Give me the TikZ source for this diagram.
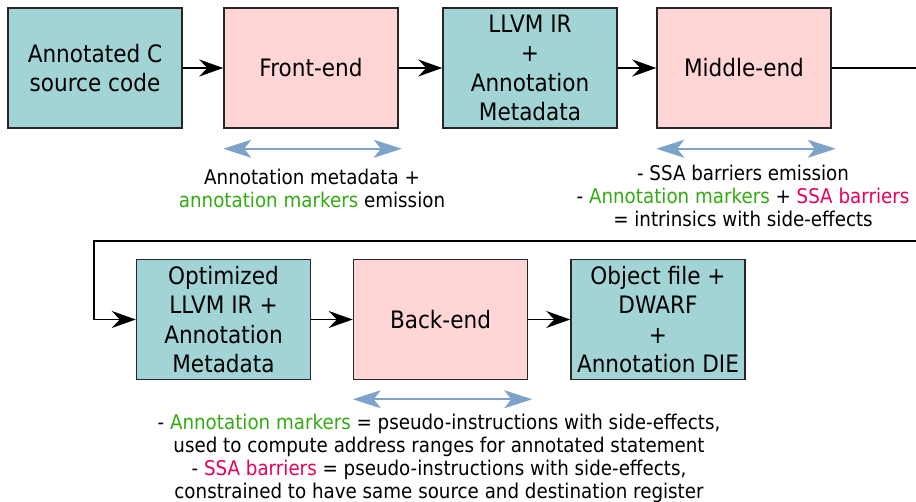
\documentclass[tikz,border=0pt]{standalone}
\usepackage{fontspec}
\setmainfont{DejaVu Sans}[FakeStretch=0.9]
\usetikzlibrary{arrows.meta}

\definecolor{boxteal}{HTML}{A2D4D5}
\definecolor{boxpink}{HTML}{FFD5D5}
\definecolor{spanblue}{HTML}{7FA3C8}
\definecolor{markgreen}{HTML}{33AA11}
\definecolor{barrred}{HTML}{E8005E}
\newcommand{\annmark}[1]{\textcolor{markgreen}{#1}}
\newcommand{\ssabar}[1]{\textcolor{barrred}{#1}}

\begin{document}
\begin{tikzpicture}[x=1pt,y=-1pt,>={Stealth[length=24pt,width=17pt,inset=8pt]},
  stage/.style={draw=black!85,line width=1.5pt,minimum width=174pt,minimum height=120pt,
    inner sep=0pt,align=center,font=\fontsize{24}{29.5}\selectfont},
  data/.style={stage,fill=boxteal},
  pass/.style={stage,fill=boxpink},
  note/.style={align=center,anchor=north,inner sep=0pt,font=\fontsize{20.3}{22.8}\selectfont},
  span/.style={{Stealth[length=28pt,width=18pt,inset=7pt]}-{Stealth[length=28pt,width=18pt,inset=7pt]},
    spanblue,line width=2pt},
  link/.style={->,line width=1.5pt}]
  \useasboundingbox (0,0) rectangle (916,502);

  % first row
  \node[data] (src) at (95,68) {Annotated C\\source code};
  \node[pass] (fe) at (311,68) {Front-end};
  \node[data] (ir) at (530,68) {LLVM IR\\+\\Annotation\\Metadata};
  \node[pass] (me) at (744,68) {Middle-end};
  % second row
  \node[data] (opt) at (223.5,319.5) {Optimized\\LLVM IR +\\Annotation\\Metadata};
  \node[pass] (be) at (440.5,319.5) {Back-end};
  \node[data] (obj) at (658,319.5) {Object file +\\DWARF\\+\\Annotation DIE};

  \draw[link] (src) -- (fe);
  \draw[link] (fe) -- (ir);
  \draw[link] (ir) -- (me);
  \draw[link] (opt) -- (be);
  \draw[link] (be) -- (obj);

  % wrap-around between the rows
  \coordinate (exitR) at (916,68);
  \coordinate (loopR) at (916,241);
  \coordinate (loopL) at (94,241);
  \draw[line width=1.5pt] (me) -- (exitR);
  \draw[link] (loopR) -- (loopL) |- (opt);

  % spans and notes
  \draw[span] ([yshift=-20pt]fe.south west) -- ([yshift=-20pt,xshift=3pt]fe.south east);
  \draw[span] ([yshift=-20pt]me.south west) -- ([yshift=-20pt,xshift=4pt]me.south east);
  \draw[span] ([yshift=-19pt]be.south west) -- ([yshift=-19pt,xshift=4pt]be.south east);

  \node[note] (fenote) at (312,169) {Annotation metadata +\\\annmark{annotation markers} emission};
  \node[note] (menote) at (743,165) {- SSA barriers emission\\- \annmark{Annotation markers} + \ssabar{SSA barriers}\\= intrinsics with side-effects};
  \node[note] (benote) at (439,414) {- \annmark{Annotation markers} = pseudo-instructions with side-effects,\\used to compute address ranges for annotated statement\\- \ssabar{SSA barriers} = pseudo-instructions with side-effects,\\constrained to have same source and destination register};
\end{tikzpicture}
\end{document}
